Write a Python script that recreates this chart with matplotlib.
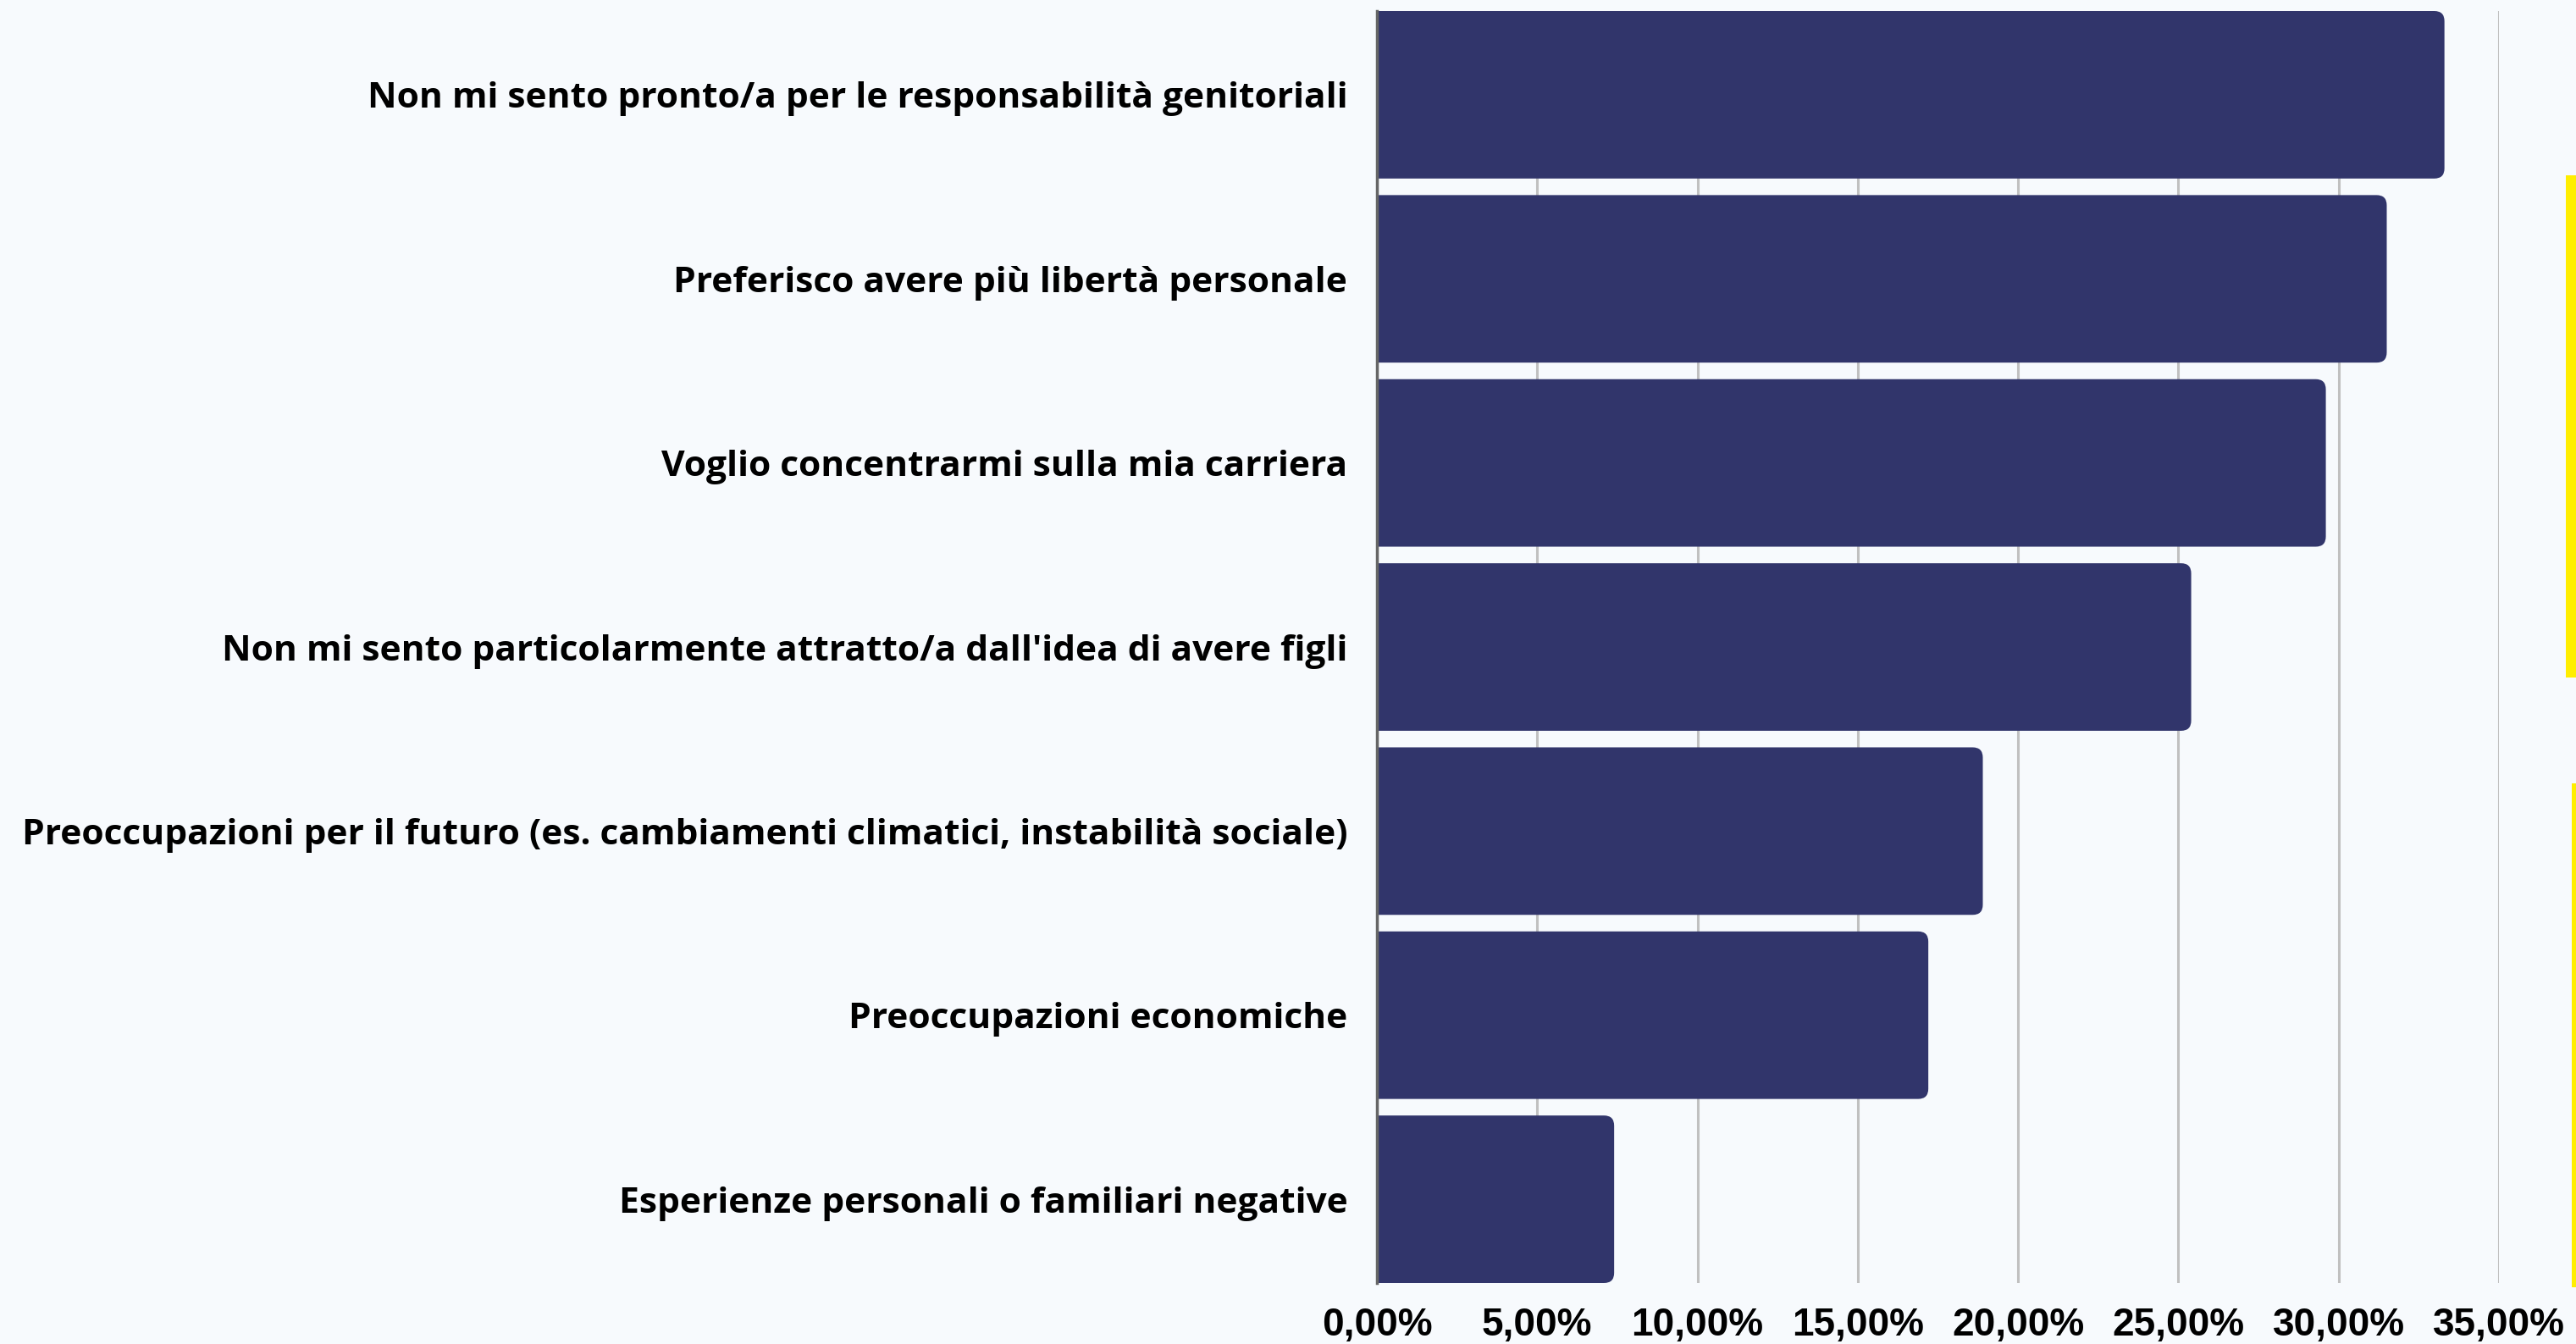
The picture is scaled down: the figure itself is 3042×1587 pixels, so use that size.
import matplotlib
matplotlib.use("Agg")
import matplotlib.pyplot as plt
from matplotlib.patches import FancyBboxPatch, Rectangle
import numpy as np

# data
labels = [
    "Non mi sento pronto/a per le responsabilità genitoriali",
    "Preferisco avere più libertà personale",
    "Voglio concentrarmi sulla mia carriera",
    "Non mi sento particolarmente attratto/a dall'idea di avere figli",
    "Preoccupazioni per il futuro (es. cambiamenti climatici, instabilità sociale)",
    "Preoccupazioni economiche",
    "Esperienze personali o familiari negative",
]
values = [33.3, 31.5, 29.6, 25.4, 18.9, 17.2, 7.4]
ticks = [0, 5, 10, 15, 20, 25, 30, 35]
tick_labels = ["0,00%", "5,00%", "10,00%", "15,00%", "20,00%", "25,00%", "30,00%", "35,00%"]

bg = "#f7fafd"
bar_col = "#31356b"
W, H = 3042, 1587
fig = plt.figure(figsize=(W / 100, H / 100), dpi=100, facecolor=bg)
ax = fig.add_axes([1626 / W, 1 - 1515 / H, (2951 - 1626) / W, (1515 - 13) / H])
ax.set_facecolor(bg)

y = np.arange(len(labels))
bh = 0.91
ax.set_xlim(0, 35)
ax.set_ylim(len(labels) - 1 + bh / 2, -bh / 2)

# pixel scale for rounded corners
px_x = ax.bbox.width / 35
px_y = ax.bbox.height / (len(labels) - 1 + bh)
r = 12
rx = r / px_x
ry = r / px_y

# rounded box starts left of 0 so the axes clip hides the left corners
for yi, v in zip(y, values):
    ax.add_patch(FancyBboxPatch((-2 * rx, yi - bh / 2), v + 2 * rx, bh,
                                boxstyle=f"round,pad=0,rounding_size={rx}",
                                mutation_aspect=ry / rx, facecolor=bar_col,
                                edgecolor="none", zorder=3))

ax.set_xticks(ticks)
ax.set_xticklabels(tick_labels, fontfamily="Liberation Sans", fontweight="bold", fontsize=33)
ax.set_yticks(y)
ax.set_yticklabels(labels, fontfamily="Open Sans", fontweight="bold", fontsize=30.6)
ax.tick_params(axis="x", length=0, pad=20)
ax.tick_params(axis="y", length=0, pad=25)
ax.grid(axis="x", color="#c0c0c0", linewidth=2.2, zorder=0)
ax.set_axisbelow(True)
for s in ["top", "right", "bottom"]:
    ax.spines[s].set_visible(False)
ax.spines["left"].set_color("#666666")
ax.spines["left"].set_linewidth(2.5)
ax.spines["left"].set_zorder(4)

# yellow accents on the right edge
fig.add_artist(Rectangle((3030 / W, 1 - 800 / H), 12 / W, (800 - 207) / H,
                         transform=fig.transFigure, facecolor="#ffee00", edgecolor="none"))
fig.add_artist(Rectangle((3037 / W, 1 - 1520 / H), 5 / W, (1520 - 925) / H,
                         transform=fig.transFigure, facecolor="#ffee00", edgecolor="none"))

fig.savefig("out.png", dpi=100, facecolor=bg)
